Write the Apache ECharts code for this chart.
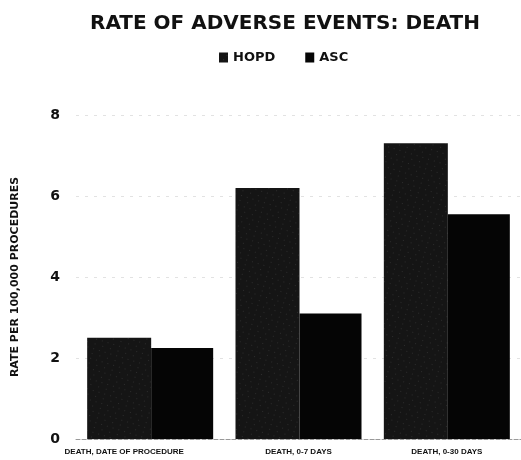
<!DOCTYPE html>
<html>
<head>
<meta charset="utf-8">
<script src="https://cdn.jsdelivr.net/npm/echarts@6/dist/echarts.min.js"></script>
<style>html,body{margin:0;padding:0;background:#fff;}#c{width:521px;height:460px;}</style>
</head>
<body>
<div id="c"></div>
<script>
const categories = ['DEATH, DATE OF PROCEDURE', 'DEATH, 0-7 DAYS', 'DEATH, 0-30 DAYS'];
const hopdValues = [2.5, 6.2, 7.3];
const ascValues = [2.25, 3.1, 5.55];
const yTicks = [0, 2, 4, 6, 8];

const chart = echarts.init(document.getElementById('c'));
const font = '"Liberation Sans", Arial, sans-serif';
const wide = '"DejaVu Sans", sans-serif';
chart.setOption({
  animation: false,
  backgroundColor: '#fff',
  title: {
    text: 'RATE OF ADVERSE EVENTS: DEATH',
    left: 280, textAlign: 'center', top: 9,
    textStyle: { fontFamily: wide, fontWeight: 'bold', fontSize: 20, color: '#111' }
  },
  legend: {
    data: ['HOPD', 'ASC'],
    top: 46, left: 214,
    itemWidth: 9, itemHeight: 10, itemGap: 30,
    icon: 'rect',
    textStyle: { fontFamily: wide, fontWeight: 'bold', fontSize: 13, color: '#111' }
  },
  grid: { left: 76, right: 0, top: 115, bottom: 21, containLabel: false },
  xAxis: {
    type: 'category',
    data: categories.map((c, i) => i === 0 ? { value: c, textStyle: { padding: [0, 52, 0, 0] } } : c),
    axisTick: { show: false },
    axisLine: { show: true, lineStyle: { color: '#999', type: 'dashed', width: 1 } },
    axisLabel: { fontFamily: font, fontWeight: 'bold', fontSize: 8, color: '#111', margin: 9, interval: 0 }
  },
  yAxis: {
    type: 'value', min: 0, max: 8, interval: 2,
    name: 'RATE PER 100,000 PROCEDURES',
    nameLocation: 'middle', nameGap: 55, nameRotate: 90,
    nameTextStyle: { fontFamily: wide, fontWeight: 'bold', fontSize: 11, color: '#111' },
    axisLine: { show: false }, axisTick: { show: false },
    axisLabel: {
      fontFamily: wide, fontWeight: 'bold', fontSize: 14, color: '#111', margin: 16,
      formatter: v => yTicks.includes(v) ? String(v) : ''
    },
    splitLine: { show: true, lineStyle: { color: '#e2e2e2', type: [3, 6], width: 1 } }
  },
  series: [
    {
      name: 'HOPD', type: 'bar', data: hopdValues,
      barWidth: 64, barGap: '0%',
      itemStyle: {
        color: '#151515',
        decal: { symbol: 'rect', symbolSize: 0.5, color: 'rgba(255,255,255,0.4)',
                 dashArrayX: [[1, 5], [1, 7]], dashArrayY: [1, 4], rotation: 0.3 }
      }
    },
    {
      name: 'ASC', type: 'bar', data: ascValues,
      barWidth: 62,
      itemStyle: { color: '#050505' }
    }
  ]
});
</script>
</body>
</html>
